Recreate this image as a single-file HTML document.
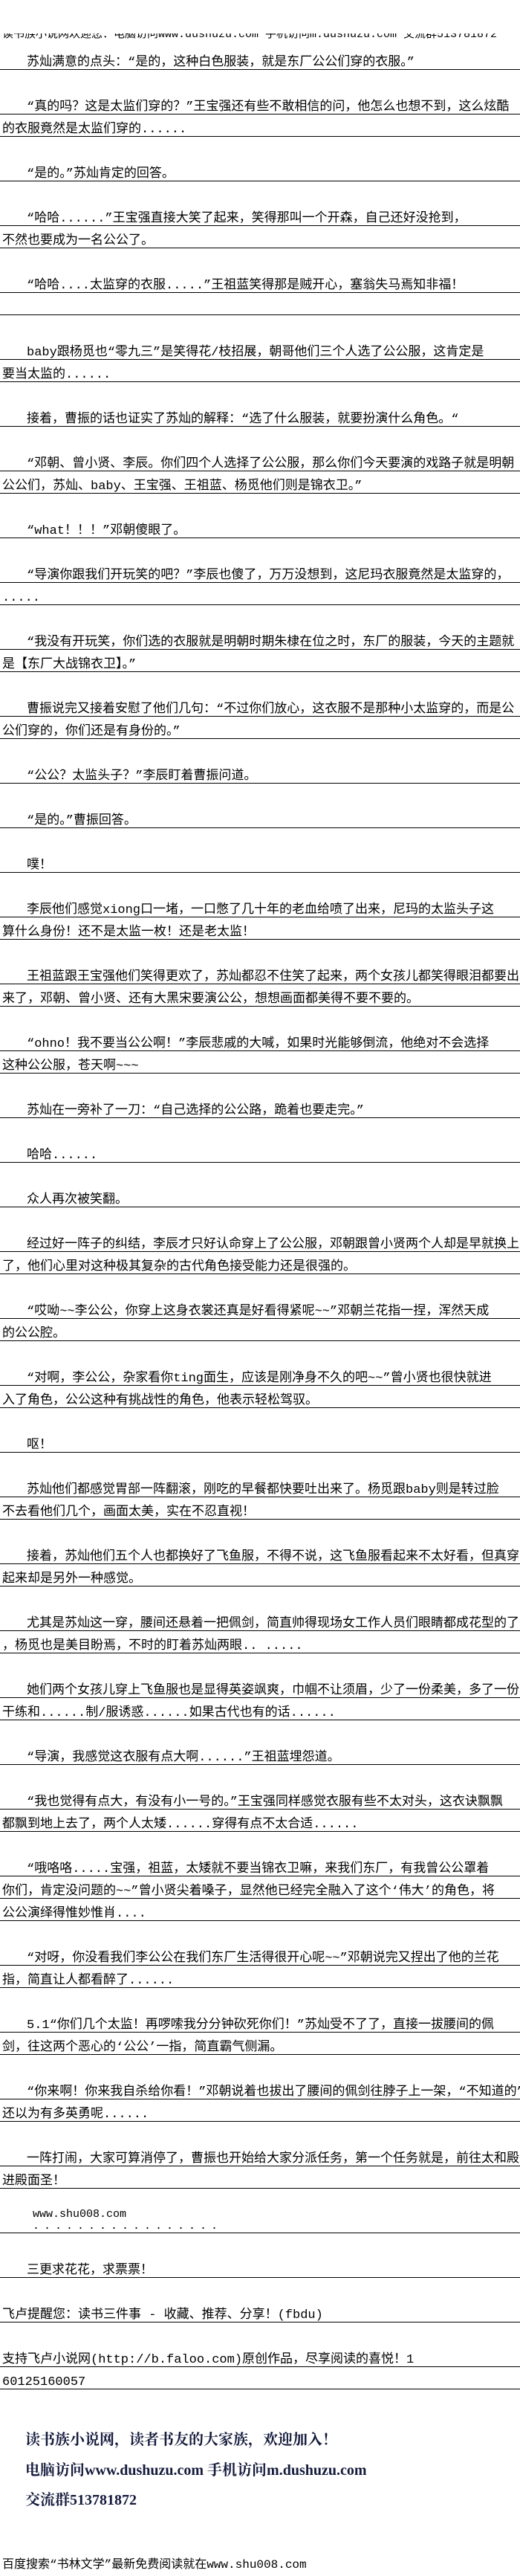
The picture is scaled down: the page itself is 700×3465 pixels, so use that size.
<!DOCTYPE html>
<html><head><meta charset="utf-8">
<style>
html,body{margin:0;padding:0;background:#fff;}
body{width:700px;height:3465px;position:relative;overflow:hidden;
font-family:"Liberation Mono","Noto Sans CJK SC",monospace;color:#000;}
.l{position:absolute;left:0;width:700px;height:22px;border-bottom:1px solid #000;
font-size:17px;line-height:26px;white-space:nowrap;overflow:hidden;padding-left:3px;box-sizing:border-box;}
.i{padding-left:36px;}
.hdr{position:absolute;left:3px;top:45px;height:13px;overflow:hidden;font-size:15px;white-space:nowrap;}
.hdr span{display:block;margin-top:-8px;line-height:20px;}
.b{position:absolute;left:34px;font-family:"Liberation Serif","Noto Serif CJK SC",serif;font-weight:bold;font-size:20px;color:#141a3c;white-space:nowrap;line-height:24px;}
.f{position:absolute;left:3px;top:3440px;font-size:16px;white-space:nowrap;line-height:20px;}
.w{position:absolute;left:44px;font-size:15px;white-space:nowrap;line-height:18px;}
</style></head><body>
<div class="hdr"><span>读书族小说网欢迎您：电脑访问www.dushuzu.com 手机访问m.dushuzu.com 交流群513781872</span></div>

<div class="l i" style="top:72px">苏灿满意的点头：“是的，这种白色服装，就是东厂公公们穿的衣服。”</div>
<div class="l i" style="top:132px">“真的吗？这是太监们穿的？”王宝强还有些不敢相信的问，他怎么也想不到，这么炫酷</div>
<div class="l" style="top:162px">的衣服竟然是太监们穿的......</div>
<div class="l i" style="top:222px">“是的。”苏灿肯定的回答。</div>
<div class="l i" style="top:282px">“哈哈......”王宝强直接大笑了起来，笑得那叫一个开森，自己还好没抢到，</div>
<div class="l" style="top:312px">不然也要成为一名公公了。</div>
<div class="l i" style="top:372px">“哈哈....太监穿的衣服.....”王祖蓝笑得那是贼开心，塞翁失马焉知非福！</div>
<div class="l" style="top:402px"></div>
<div class="l i" style="top:462px">baby跟杨觅也“零九三”是笑得花/枝招展，朝哥他们三个人选了公公服，这肯定是</div>
<div class="l" style="top:492px">要当太监的......</div>
<div class="l i" style="top:552px">接着，曹振的话也证实了苏灿的解释：“选了什么服装，就要扮演什么角色。“</div>
<div class="l i" style="top:612px">“邓朝、曾小贤、李辰。你们四个人选择了公公服，那么你们今天要演的戏路子就是明朝</div>
<div class="l" style="top:642px">公公们，苏灿、baby、王宝强、王祖蓝、杨觅他们则是锦衣卫。”</div>
<div class="l i" style="top:702px">“what！！！”邓朝傻眼了。</div>
<div class="l i" style="top:762px">“导演你跟我们开玩笑的吧？”李辰也傻了，万万没想到，这尼玛衣服竟然是太监穿的，</div>
<div class="l" style="top:792px">.....</div>
<div class="l i" style="top:852px">“我没有开玩笑，你们选的衣服就是明朝时期朱棣在位之时，东厂的服装，今天的主题就</div>
<div class="l" style="top:882px">是【东厂大战锦衣卫】。”</div>
<div class="l i" style="top:942px">曹振说完又接着安慰了他们几句：“不过你们放心，这衣服不是那种小太监穿的，而是公</div>
<div class="l" style="top:972px">公们穿的，你们还是有身份的。”</div>
<div class="l i" style="top:1032px">“公公？太监头子？”李辰盯着曹振问道。</div>
<div class="l i" style="top:1092px">“是的。”曹振回答。</div>
<div class="l i" style="top:1152px">噗！</div>
<div class="l i" style="top:1212px">李辰他们感觉xiong口一堵，一口憋了几十年的老血给喷了出来，尼玛的太监头子这</div>
<div class="l" style="top:1242px">算什么身份！还不是太监一枚！还是老太监！</div>
<div class="l i" style="top:1302px">王祖蓝跟王宝强他们笑得更欢了，苏灿都忍不住笑了起来，两个女孩儿都笑得眼泪都要出</div>
<div class="l" style="top:1332px">来了，邓朝、曾小贤、还有大黑宋要演公公，想想画面都美得不要不要的。</div>
<div class="l i" style="top:1392px">“ohno！我不要当公公啊！”李辰悲戚的大喊，如果时光能够倒流，他绝对不会选择</div>
<div class="l" style="top:1422px">这种公公服，苍天啊~~~</div>
<div class="l i" style="top:1482px">苏灿在一旁补了一刀：“自己选择的公公路，跪着也要走完。”</div>
<div class="l i" style="top:1542px">哈哈......</div>
<div class="l i" style="top:1602px">众人再次被笑翻。</div>
<div class="l i" style="top:1662px">经过好一阵子的纠结，李辰才只好认命穿上了公公服，邓朝跟曾小贤两个人却是早就换上</div>
<div class="l" style="top:1692px">了，他们心里对这种极其复杂的古代角色接受能力还是很强的。</div>
<div class="l i" style="top:1752px">“哎呦~~李公公，你穿上这身衣裳还真是好看得紧呢~~”邓朝兰花指一捏，浑然天成</div>
<div class="l" style="top:1782px">的公公腔。</div>
<div class="l i" style="top:1842px">“对啊，李公公，杂家看你ting面生，应该是刚净身不久的吧~~”曾小贤也很快就进</div>
<div class="l" style="top:1872px">入了角色，公公这种有挑战性的角色，他表示轻松驾驭。</div>
<div class="l i" style="top:1932px">呕！</div>
<div class="l i" style="top:1992px">苏灿他们都感觉胃部一阵翻滚，刚吃的早餐都快要吐出来了。杨觅跟baby则是转过脸</div>
<div class="l" style="top:2022px">不去看他们几个，画面太美，实在不忍直视！</div>
<div class="l i" style="top:2082px">接着，苏灿他们五个人也都换好了飞鱼服，不得不说，这飞鱼服看起来不太好看，但真穿</div>
<div class="l" style="top:2112px">起来却是另外一种感觉。</div>
<div class="l i" style="top:2172px">尤其是苏灿这一穿，腰间还悬着一把佩剑，简直帅得现场女工作人员们眼睛都成花型的了</div>
<div class="l" style="top:2202px">，杨觅也是美目盼焉，不时的盯着苏灿两眼.. .....</div>
<div class="l i" style="top:2262px">她们两个女孩儿穿上飞鱼服也是显得英姿飒爽，巾帼不让须眉，少了一份柔美，多了一份</div>
<div class="l" style="top:2292px">干练和......制/服诱惑......如果古代也有的话......</div>
<div class="l i" style="top:2352px">“导演，我感觉这衣服有点大啊......”王祖蓝埋怨道。</div>
<div class="l i" style="top:2412px">“我也觉得有点大，有没有小一号的。”王宝强同样感觉衣服有些不太对头，这衣诀飘飘</div>
<div class="l" style="top:2442px">都飘到地上去了，两个人太矮......穿得有点不太合适......</div>
<div class="l i" style="top:2502px">“哦咯咯.....宝强，祖蓝，太矮就不要当锦衣卫嘛，来我们东厂，有我曾公公罩着</div>
<div class="l" style="top:2532px">你们，肯定没问题的~~”曾小贤尖着嗓子，显然他已经完全融入了这个‘伟大’的角色，将</div>
<div class="l" style="top:2562px">公公演绎得惟妙惟肖....</div>
<div class="l i" style="top:2622px">“对呀，你没看我们李公公在我们东厂生活得很开心呢~~”邓朝说完又捏出了他的兰花</div>
<div class="l" style="top:2652px">指，简直让人都看醉了......</div>
<div class="l i" style="top:2712px">5.1“你们几个太监！再啰嗦我分分钟砍死你们！”苏灿受不了了，直接一拔腰间的佩</div>
<div class="l" style="top:2742px">剑，往这两个恶心的‘公公’一指，简直霸气侧漏。</div>
<div class="l i" style="top:2802px">“你来啊！你来我自杀给你看！”邓朝说着也拔出了腰间的佩剑往脖子上一架，“不知道的”</div>
<div class="l" style="top:2832px">还以为有多英勇呢......</div>
<div class="l i" style="top:2892px">一阵打闹，大家可算消停了，曹振也开始给大家分派任务，第一个任务就是，前往太和殿</div>
<div class="l" style="top:2922px">进殿面圣！</div>
<div class="w" style="top:2970px">www.shu008.com</div>
<div class="w" style="top:2986px;letter-spacing:6px;">.................</div>
<div class="l" style="top:2982px"></div>
<div class="l i" style="top:3042px">三更求花花，求票票！</div>
<div class="l" style="top:3102px">飞卢提醒您：读书三件事 - 收藏、推荐、分享！(fbdu)</div>
<div class="l" style="top:3162px">支持飞卢小说网(http://b.faloo.com)原创作品，尽享阅读的喜悦！1</div>
<div class="l" style="top:3192px">60125160057</div>

<div class="b" style="top:3270px">读书族小说网，读者书友的大家族，欢迎加入！</div>
<div class="b" style="top:3311px">电脑访问www.dushuzu.com 手机访问m.dushuzu.com</div>
<div class="b" style="top:3351px">交流群513781872</div>

<div class="f">百度搜索“书林文学”最新免费阅读就在www.shu008.com</div>
</body></html>
